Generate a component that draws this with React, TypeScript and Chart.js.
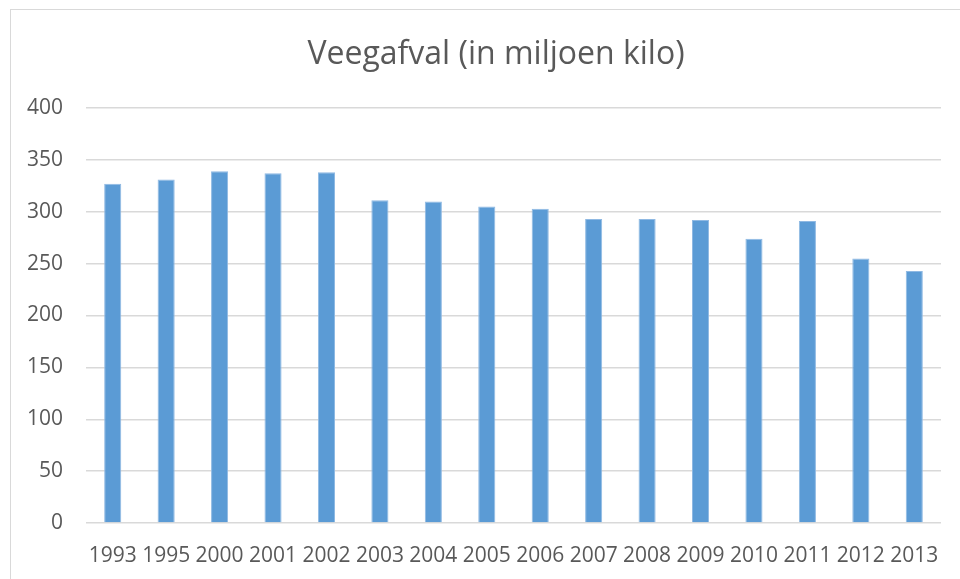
import React, { useEffect, useRef } from "react";
import { Chart, registerables } from "chart.js";

Chart.register(...registerables);

const TITLE = "Veegafval (in miljoen kilo)";
const YEARS = ["1993", "1995", "2000", "2001", "2002", "2003", "2004", "2005", "2006", "2007", "2008", "2009", "2010", "2011", "2012", "2013"];
const VALUES = [327, 331, 339, 337, 338, 311, 310, 305, 303, 293, 293, 292, 274, 291, 255, 243];
const Y_MIN = 0;
const Y_MAX = 400;
const Y_STEP = 50;

const FONT = "'Open Sans', sans-serif";
const TEXT = "#595959";
const GRID = "#d9d9d9";

export default function App() {
  const ref = useRef<HTMLCanvasElement | null>(null);

  useEffect(() => {
    if (!ref.current) return;
    const chart = new Chart(ref.current, {
      type: "bar",
      data: {
        labels: YEARS,
        datasets: [
          {
            data: VALUES,
            backgroundColor: "#5b9bd5",
            borderColor: "#8fb9e3",
            borderWidth: { top: 1, left: 1, right: 1, bottom: 0 },
            categoryPercentage: 1,
            barPercentage: 0.32,
          },
        ],
      },
      options: {
        animation: false,
        responsive: false,
        maintainAspectRatio: false,
        layout: { padding: { left: 0, right: 0, top: 0, bottom: 17 } },
        plugins: {
          legend: { display: false },
          tooltip: { enabled: false },
          title: {
            display: true,
            text: TITLE,
            color: TEXT,
            font: { family: FONT, size: 32, weight: "normal", lineHeight: 1.2 },
            padding: { top: 26, bottom: 33.6 },
          },
        },
        scales: {
          x: {
            grid: { display: false },
            border: { display: false },
            ticks: {
              color: TEXT,
              font: { family: FONT, size: 21 },
              padding: 12,
              maxRotation: 0,
              autoSkip: false,
            },
            afterFit: (s: any) => {
              s.height = 60;
            },
          },
          y: {
            min: Y_MIN,
            max: Y_MAX,
            grid: { color: GRID, lineWidth: 1.5, drawTicks: false },
            border: { display: false },
            ticks: {
              stepSize: Y_STEP,
              color: TEXT,
              font: { family: FONT, size: 21 },
              padding: 23,
            },
            afterFit: (s: any) => {
              s.width = 75;
            },
          },
          yRight: {
            type: "linear",
            position: "right",
            display: true,
            grid: { display: false, drawTicks: false },
            border: { display: false },
            ticks: { display: false },
            afterFit: (s: any) => {
              s.width = 40;
            },
          },
        },
      },
    });
    return () => chart.destroy();
  }, []);

  return (
    <div style={{ position: "fixed", left: 0, top: 0, width: 960, height: 579, overflow: "hidden", background: "#fff" }}>
      <div
        style={{
          position: "absolute",
          left: 10,
          top: 9,
          width: 972,
          height: 592,
          border: "1px solid #d9d9d9",
          boxSizing: "border-box",
        }}
      >
        <canvas ref={ref} width={970} height={590} style={{ position: "absolute", left: 0, top: 0, width: 970, height: 590 }} />
      </div>
    </div>
  );
}
